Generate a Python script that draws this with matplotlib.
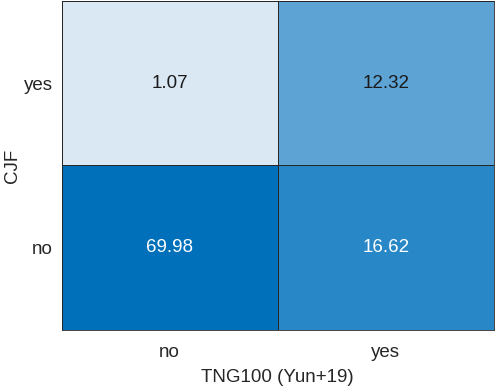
import matplotlib
matplotlib.use("Agg")
import matplotlib.pyplot as plt
import numpy as np
from matplotlib.colors import LinearSegmentedColormap, Normalize

plt.rcParams['font.family'] = ['Liberation Sans', 'DejaVu Sans']

x_labels = ["no", "yes"]          # TNG100 (Yun+19)
y_labels = ["yes", "no"]          # CJF (top to bottom)
values = np.array([[1.07, 12.32],
                   [69.98, 16.62]])

vmin, vmax = values.min(), values.max()
def pos(v):
    return (v - vmin) / (vmax - vmin)
cmap = LinearSegmentedColormap.from_list(
    "m", [(0.0, "#dae8f4"), (pos(12.32), "#5ba3d5"), (pos(16.62), "#2586c7"), (1.0, "#0070bb")])

fig = plt.figure(figsize=(4.95, 3.89), dpi=100)
ax = fig.add_axes([61.5/495, 1 - 330/389, (494 - 61.5)/495, (329)/389])
ax.pcolormesh(np.arange(3), np.arange(3), values, cmap=cmap, norm=Normalize(vmin, vmax),
              edgecolor="#262626", linewidth=0.6)
ax.set_xlim(0, 2)
ax.set_ylim(2, 0)
for i in range(2):
    for j in range(2):
        v = values[i, j]
        c = "white" if pos(v) > 0.2 else "#1a1a1a"
        ax.text(j + 0.5, i + 0.5, f"{v:.2f}", ha="center", va="center", fontsize=13.5, color=c)
ax.set_xticks([0.5, 1.5])
ax.set_xticklabels(x_labels)
ax.set_yticks([0.5, 1.5])
ax.set_yticklabels(y_labels)
ax.tick_params(axis="y", length=0, labelsize=13.5, pad=6, colors="#262626")
ax.tick_params(axis="x", length=0, labelsize=13.5, pad=10, colors="#262626")
ax.set_xlabel("TNG100 (Yun+19)", fontsize=13.5, color="#262626", labelpad=6)
ax.set_ylabel("CJF", fontsize=13.5, color="#262626")
ax.yaxis.set_label_coords(-(61.5 - 21) / 432.5, 0.5)
for s in ax.spines.values():
    s.set_color("#262626")
    s.set_linewidth(0.6)
fig.savefig("out.png", dpi=100)
